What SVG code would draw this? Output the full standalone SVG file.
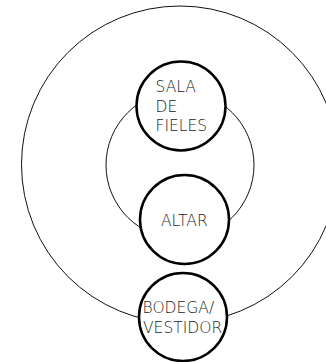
<svg xmlns="http://www.w3.org/2000/svg" width="326" height="362" viewBox="0 0 326 362">
<style>
.zone{fill:none;stroke:#111;stroke-width:1}
.node{fill:#fff;stroke:#000;stroke-width:2.5}
.lbl{font-family:"DejaVu Sans","Liberation Sans",sans-serif;font-weight:200;font-size:15.5px;fill:#222}
</style>
<rect width="326" height="362" fill="#fff"/>
<g id="zones">
<circle id="zone-outer" class="zone" cx="180" cy="164.5" r="158.5"/>
<circle id="zone-inner" class="zone" cx="180" cy="165" r="74"/>
</g>
<g id="connectors"></g>
<g id="node-sala">
<circle class="node" cx="181" cy="106" r="44.5"/>
<text class="lbl" x="155.5" y="91.7">SALA</text>
<text class="lbl" x="155.5" y="111.7">DE</text>
<text class="lbl" x="155.5" y="130.7">FIELES</text>
</g>
<g id="node-altar">
<circle class="node" cx="184.5" cy="219.5" r="44.5"/>
<text class="lbl" x="161" y="225.5">ALTAR</text>
</g>
<g id="node-bodega">
<circle class="node" cx="183" cy="317" r="44"/>
<text class="lbl" x="142.5" y="313.3">BODEGA/</text>
<text class="lbl" x="143" y="333.3">VESTIDOR</text>
</g>
</svg>
